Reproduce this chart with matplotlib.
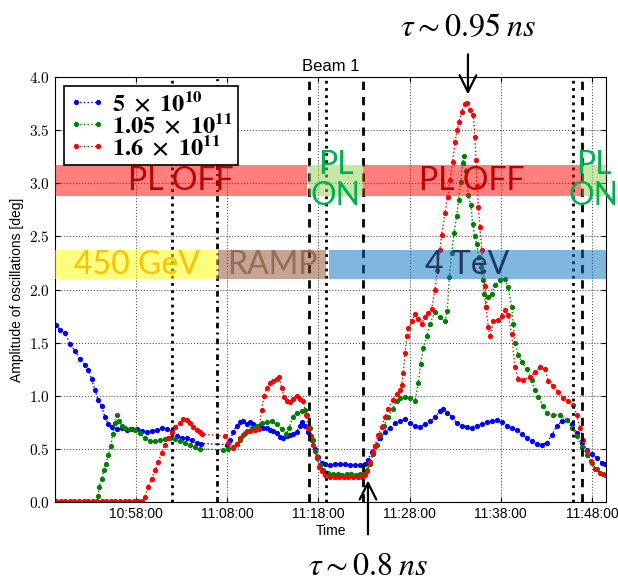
import datetime as dt
import matplotlib
matplotlib.use('Agg')
import matplotlib.pyplot as plt
import matplotlib.dates as mdates
from matplotlib.patches import Rectangle
from matplotlib.ticker import FormatStrFormatter

# --- data: time in minutes after 10:00, amplitude in deg ---
t_blue = [49.23, 49.67, 50.21, 50.76, 51.31, 51.86, 52.41, 52.77, 53.14, 53.50,
          53.86, 54.24, 54.60, 54.96, 55.33,
          55.88, 56.43, 56.98, 57.53, 58.08, 58.63, 59.17, 59.72, 60.27, 60.82,
          61.37, 61.91, 62.46, 63.01, 63.56, 64.11, 64.65, 65.13,
          67.95, 68.31, 68.67, 69.04, 69.40, 69.77, 70.14, 70.50, 70.86, 71.23,
          71.59, 71.96, 72.33, 72.69, 73.06, 73.43, 73.79, 74.15, 74.52, 74.89,
          75.25, 75.62, 75.98, 76.20, 76.53, 76.89, 77.27, 77.63, 77.99, 78.36,
          78.72, 79.27, 79.82, 80.37, 80.91, 81.46, 82.01, 82.56, 83.11, 83.44,
          83.84, 84.21, 84.76, 85.31, 85.86, 86.40, 86.95, 87.50, 88.05, 88.60,
          89.14, 89.69, 90.24, 90.79, 91.34, 91.67, 92.11, 92.65, 93.20, 93.75,
          94.29, 94.84, 95.39, 95.94, 96.49, 97.04, 97.59, 98.13, 98.68, 99.23,
          99.78, 100.32, 100.87, 101.42, 101.97, 102.52, 103.06, 103.61, 104.16, 104.71,
          105.26, 105.81, 106.35, 106.90, 107.45, 108.00, 108.55, 109.10, 109.43]
a_blue = [1.67, 1.62, 1.59, 1.49, 1.42, 1.35, 1.29, 1.24, 1.16, 1.05,
          0.96, 0.90, 0.80, 0.73, 0.71,
          0.69, 0.70, 0.68, 0.69, 0.69, 0.67, 0.66, 0.67, 0.68, 0.70,
          0.69, 0.67, 0.62, 0.60, 0.60, 0.58, 0.56, 0.55,
          0.54, 0.58, 0.66, 0.72, 0.755, 0.76, 0.73, 0.755, 0.73, 0.71,
          0.72, 0.70, 0.70, 0.68, 0.67, 0.65, 0.61, 0.60, 0.62, 0.63,
          0.64, 0.66, 0.72, 0.75, 0.72, 0.66, 0.58, 0.50, 0.42, 0.37,
          0.355, 0.35, 0.355, 0.36, 0.355, 0.35, 0.35, 0.345, 0.355, 0.40,
          0.47, 0.53, 0.60, 0.66, 0.70, 0.74, 0.76, 0.78, 0.74, 0.72,
          0.71, 0.73, 0.76, 0.80, 0.86, 0.88, 0.84, 0.80, 0.74, 0.72,
          0.71, 0.70, 0.72, 0.73, 0.75, 0.76, 0.77, 0.75, 0.72, 0.70,
          0.68, 0.64, 0.60, 0.57, 0.55, 0.54, 0.56, 0.63, 0.72, 0.76,
          0.77, 0.73, 0.65, 0.56, 0.49, 0.45, 0.41, 0.37, 0.36]

t_green = [53.86, 53.97, 54.24, 54.49, 54.71, 54.96, 55.23, 55.44, 55.70, 55.95,
           56.17, 56.43, 56.79, 57.34, 57.89, 58.44, 58.99, 59.54, 60.08, 60.63,
           61.18, 61.73, 62.28, 62.82, 63.37, 63.92, 64.47, 65.02,
           67.57, 68.12, 68.67, 69.04, 69.40, 69.77, 70.14, 70.69, 71.23, 71.78,
           72.33, 72.88, 73.43, 73.98, 74.45, 74.81, 75.18, 75.62, 76.17, 76.53,
           76.79, 77.08, 77.38, 77.63, 77.88, 78.18, 78.54, 79.08, 79.60, 80.10,
           80.60, 81.10, 81.60, 82.10, 82.60, 83.00, 83.30, 83.66, 84.02, 84.39,
           84.75, 85.19, 85.67, 86.15, 86.59, 86.95, 87.50, 88.05, 88.60, 88.96,
           89.22, 89.51, 89.88, 90.24, 90.79, 91.33, 91.88, 92.14, 92.36, 92.61,
           92.87, 93.16, 93.38, 93.60, 93.82, 93.97, 94.18, 94.44, 94.70, 94.92,
           95.14, 95.36, 95.58, 95.80, 96.02, 96.16, 96.38, 96.63, 97.00, 97.36,
           97.91, 98.46, 98.82, 99.19, 99.37, 99.56, 99.92, 100.29, 100.84, 101.38,
           101.75, 102.12, 102.66, 103.03, 103.76, 104.49, 105.22, 105.77, 106.32, 106.86,
           107.41, 107.96, 108.51, 109.24]
a_green = [0.06, 0.14, 0.22, 0.30, 0.36, 0.44, 0.53, 0.64, 0.74, 0.82,
           0.76, 0.72, 0.70, 0.69, 0.68, 0.65, 0.60, 0.57, 0.57, 0.58,
           0.59, 0.60, 0.59, 0.57, 0.56, 0.54, 0.52, 0.50,
           0.49, 0.50, 0.52, 0.55, 0.58, 0.63, 0.67, 0.70, 0.72, 0.74,
           0.755, 0.76, 0.73, 0.69, 0.64, 0.70, 0.80, 0.84, 0.86, 0.87,
           0.82, 0.70, 0.58, 0.48, 0.41, 0.35, 0.30, 0.27, 0.26, 0.26,
           0.255, 0.26, 0.26, 0.255, 0.26, 0.27, 0.30, 0.36, 0.45, 0.54,
           0.63, 0.72, 0.80, 0.88, 0.95, 0.98, 0.99, 0.98, 0.95, 1.12,
           1.30, 1.45, 1.56, 1.68, 1.79, 1.74, 1.70, 1.80, 2.12, 2.34,
           2.53, 2.69, 2.84, 3.01, 3.19, 3.26, 3.12, 2.89, 2.80, 2.62,
           2.50, 2.43, 2.31, 2.21, 2.09, 1.96, 1.84, 1.93, 1.96, 2.04,
           2.09, 2.10, 2.02, 1.84, 1.68, 1.50, 1.38, 1.32, 1.25, 1.15,
           1.05, 0.99, 0.90, 0.84, 0.82, 0.82, 0.77, 0.70, 0.62, 0.52,
           0.44, 0.37, 0.31, 0.26]

t_red = [49.23, 49.75, 50.25, 50.75, 51.25, 51.75, 52.25, 52.75, 53.25, 53.75,
         54.25, 54.75, 55.25, 55.75, 56.25, 56.75, 57.25, 57.75, 58.25, 58.70,
         58.99, 59.35, 59.72, 60.08, 60.45, 60.82, 61.18, 61.54, 61.91, 62.28,
         62.82, 63.19, 63.56, 63.92, 64.28, 64.65, 65.02, 65.20,
         67.76, 68.12, 68.67, 69.04, 69.40, 69.95, 70.50, 71.05, 71.52, 71.78,
         72.04, 72.33, 72.69, 73.06, 73.43, 73.71, 73.98, 74.23, 74.52, 74.89,
         75.25, 75.62, 75.98, 76.34, 76.64, 76.89, 77.19, 77.44, 77.81, 78.10,
         78.36, 78.72, 79.27, 79.80, 80.30, 80.80, 81.30, 81.80, 82.30, 82.80,
         83.11, 83.36, 83.66, 83.95, 84.21, 84.57, 84.94, 85.30, 85.67, 86.15,
         86.59, 86.95, 87.13, 87.31, 87.50, 87.68, 87.86, 88.23, 88.59, 88.96,
         89.33, 89.69, 90.05, 90.42, 90.79, 91.04, 91.33, 91.52, 91.88, 92.18,
         92.43, 92.72, 92.98, 93.23, 93.42, 93.71, 94.07, 94.33, 94.62, 94.98,
         95.17, 95.28, 95.43, 95.54, 95.72, 95.91, 96.08, 96.27, 96.38, 96.63,
         96.82, 97.19, 97.73, 98.10, 98.46, 98.82, 99.19, 99.56, 99.92, 100.47,
         101.20, 101.75, 102.30, 102.85, 103.21, 103.76, 104.31, 104.85, 105.40, 105.95,
         106.32, 106.68, 107.05, 107.41, 107.85, 108.33, 108.87, 109.43]
a_red = [0.01, 0.01, 0.01, 0.01, 0.01, 0.01, 0.01, 0.01, 0.01, 0.01,
         0.01, 0.01, 0.01, 0.01, 0.01, 0.01, 0.01, 0.01, 0.01, 0.01,
         0.05, 0.14, 0.22, 0.30, 0.38, 0.46, 0.54, 0.60, 0.66, 0.71,
         0.74, 0.78, 0.77, 0.74, 0.71, 0.68, 0.66, 0.64,
         0.62, 0.56, 0.51, 0.55, 0.60, 0.65, 0.67, 0.68, 0.69, 0.87,
         1.00, 1.07, 1.12, 1.14, 1.16, 1.18, 1.07, 0.99, 0.95, 0.94,
         0.97, 1.00, 0.97, 0.95, 0.82, 0.70, 0.62, 0.54, 0.42, 0.33,
         0.29, 0.25, 0.24, 0.24, 0.235, 0.24, 0.24, 0.235, 0.24, 0.24,
         0.25, 0.29, 0.38, 0.47, 0.53, 0.63, 0.71, 0.80, 0.88, 0.96,
         1.02, 1.05, 1.10, 1.21, 1.40, 1.56, 1.64, 1.70, 1.77, 1.72,
         1.68, 1.74, 1.78, 1.82, 2.00, 2.18, 2.37, 2.51, 2.72, 2.87,
         3.03, 3.20, 3.39, 3.50, 3.58, 3.67, 3.75, 3.76, 3.69, 3.64,
         3.44, 3.22, 2.97, 2.78, 2.59, 2.37, 2.17, 2.03, 1.84, 1.65,
         1.56, 1.70, 1.71, 1.75, 1.81, 1.76, 1.58, 1.27, 1.16, 1.15,
         1.18, 1.22, 1.27, 1.25, 1.14, 1.09, 1.04, 0.98, 0.95, 0.91,
         0.82, 0.70, 0.58, 0.48, 0.39, 0.31, 0.27, 0.25]

labels = [r'$\mathbf{5\ \times\ 10^{10}}$', r'$\mathbf{1.05\ \times\ 10^{11}}$',
          r'$\mathbf{1.6\ \times\ 10^{11}}$']

# vertical markers (minutes after 10:00)
vl_dotted = [61.95, 78.83, 105.92]
vl_dashdot = [66.88]
vl_dashed = [76.97, 82.89, 106.90]

# shaded bands: start, end, text
pl_start = [49.12, 76.97, 82.89, 106.90]
pl_end = [76.75, 82.89, 106.79, 109.54]
pl_text = ['PL OFF', 'PL\nON', 'PL OFF', 'PL\nON']
pl_on = [False, True, False, True]
pl_y = (2.88, 3.17)

en_start = [49.12, 66.99, 79.16]
en_end = [66.99, 78.83, 109.54]
en_text = ['450 GeV', 'RAMP', '4 TeV']
en_fill = ['yellow', '#8a4d2d', '#0070c0']
en_tcol = ['#ffc000', '#9b6a56', '#1f3864']
en_y = (2.10, 2.37)

tau_high = (94.40, 3.81)
tau_low = (83.44, 0.23)

base = mdates.date2num(dt.datetime(2012, 6, 1, 10, 0, 0))


def tm(mins):
    return [base + m / 1440.0 for m in mins]


plt.rcParams['font.family'] = ['Liberation Sans', 'DejaVu Sans']
plt.rcParams['mathtext.fontset'] = 'cm'

fig = plt.figure(figsize=(6.18, 5.81), dpi=100)
ax = fig.add_axes([55 / 618, 79 / 581, 551 / 618, 425 / 581])

for t, a, c, lab in [(t_blue, a_blue, 'b', labels[0]), (t_green, a_green, 'g', labels[1]),
                     (t_red, a_red, 'r', labels[2])]:
    ax.plot(tm(t), a, ':', color=c, lw=1, marker='o', ms=3.8, mew=0, label=lab, zorder=2)

for x in vl_dotted:
    ax.axvline(tm([x])[0], color='k', ls=(0, (1, 1.6)), lw=2, zorder=3)
for x in vl_dashdot:
    ax.axvline(tm([x])[0], color='k', ls=(0, (2, 1.5, 0.7, 1.5)), lw=2, zorder=3)
for x in vl_dashed:
    ax.axvline(tm([x])[0], color='k', ls=(0, (3, 2.5)), lw=2, zorder=3)

band_font = ['Lato', 'DejaVu Sans']
for s, e, txt, on in zip(pl_start, pl_end, pl_text, pl_on):
    x0, x1 = tm([s, e])
    ax.add_patch(Rectangle((x0, pl_y[0]), x1 - x0, pl_y[1] - pl_y[0],
                           facecolor='#92d050' if on else 'red', alpha=0.5, lw=0, zorder=4))
    ax.text((x0 + x1) / 2, sum(pl_y) / 2, txt, ha='center', va='center',
            color='#00b050' if on else '#c00000', fontsize=23, family=band_font,
            linespacing=1.05, zorder=5, clip_on=False)

for s, e, txt, fc, tc in zip(en_start, en_end, en_text, en_fill, en_tcol):
    x0, x1 = tm([s, e])
    ax.add_patch(Rectangle((x0, en_y[0]), x1 - x0, en_y[1] - en_y[0],
                           facecolor=fc, alpha=0.5, lw=0, zorder=4))
    ax.text((x0 + x1) / 2, sum(en_y) / 2, txt, ha='center', va='center',
            color=tc, fontsize=23, family=band_font, zorder=5)

# tau annotations
xh = tm([tau_high[0]])[0]
ax.annotate('', xy=(xh, tau_high[1]), xytext=(xh, 4.24), annotation_clip=False,
            arrowprops=dict(arrowstyle='->', lw=1.6, color='k', mutation_scale=30))
ax.text(xh, 4.46, r'$\tau{\sim}0.95\;ns$', ha='center', va='center', fontsize=23,
        math_fontfamily='stix', clip_on=False)
xl = tm([tau_low[0]])[0]
ax.annotate('', xy=(xl, tau_low[1]), xytext=(xl, -0.33), annotation_clip=False,
            arrowprops=dict(arrowstyle='->', lw=1.6, color='k', mutation_scale=30))
ax.text(xl, -0.61, r'$\tau{\sim}0.8\;ns$', ha='center', va='center', fontsize=23,
        math_fontfamily='stix', clip_on=False)

ax.set_xlim(tm([49.12, 109.54]))
ax.set_ylim(0, 4)
ax.xaxis.set_major_locator(mdates.MinuteLocator(byminute=[8, 18, 28, 38, 48, 58]))
ax.xaxis.set_major_formatter(mdates.DateFormatter('%H:%M:%S'))
ax.yaxis.set_major_formatter(FormatStrFormatter(r'$%.1f$'))
ax.tick_params(direction='in', top=True, right=True, labelsize=10)
ax.tick_params(axis='y', labelsize=11)
ax.grid(True, ls=':', color='#555555', lw=0.8)
ax.set_axisbelow(True)
ax.set_title('Beam 1', fontsize=12, pad=4)
ax.set_xlabel('Time', fontsize=10, labelpad=2)
ax.set_ylabel('Amplitude of oscillations [deg]', fontsize=10)

leg = ax.legend(loc='upper left', bbox_to_anchor=(0.016, 0.978), borderaxespad=0,
                numpoints=2, fontsize=17.5, fancybox=False, framealpha=1, edgecolor='k',
                handlelength=1.5, handletextpad=0.3, labelspacing=-0.1, borderpad=0.2)
leg.get_frame().set_linewidth(1.2)
for txt in leg.get_texts():
    txt.set_math_fontfamily('stix')
leg.set_zorder(10)

fig.savefig('out.png', dpi=100)
